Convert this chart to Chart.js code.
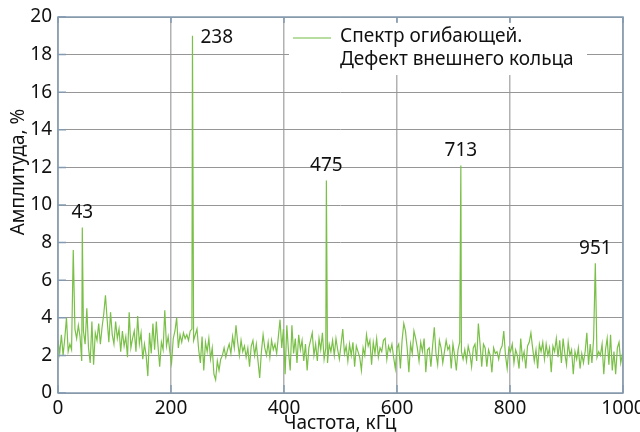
<!DOCTYPE html>
<html>
<head>
<meta charset="utf-8">
<script src="https://cdn.jsdelivr.net/npm/chart.js@4"></script>
<style>
  html, body { margin: 0; padding: 0; background: #fff; }
  #wrap { width: 640px; height: 432px; }
</style>
</head>
<body>
<div id="wrap"><canvas id="spectrum" width="640" height="432"></canvas></div>
<script>
// noise floor, one value every 3 kHz starting at 0
const step = 3;
const noise = [
    2.8,2.1,3.1,2.0,2.9,4.0,2.2,2.6,2.3,2.5,3.4,2.9,3.6,3.0,1.7,3.3,2.6,4.5,2.4,1.6,
    3.8,1.5,3.2,2.8,3.7,2.6,3.5,4.2,3.0,3.9,2.7,4.3,3.1,2.6,3.8,2.9,3.4,2.2,3.3,2.5,
    3.0,1.9,4.3,2.4,2.9,3.3,2.2,4.1,2.6,3.2,1.8,2.6,2.0,0.9,3.2,2.1,3.7,2.3,3.8,2.5,
    1.4,2.7,2.3,4.4,2.5,3.0,2.2,1.6,2.9,3.3,4.0,2.4,3.1,2.7,3.2,2.9,3.1,2.8,3.3,3.4,
    2.8,3.1,3.4,2.3,1.6,3.0,1.2,2.7,2.2,2.9,1.8,2.4,1.0,0.7,1.7,1.2,1.8,2.0,2.4,1.9,
    2.3,2.6,2.1,3.0,2.4,3.6,2.7,2.0,2.8,2.2,2.5,1.9,2.4,1.4,2.5,2.8,2.0,2.6,1.7,0.8,
    2.2,3.1,2.4,2.0,2.7,1.9,2.8,2.3,2.6,2.1,3.0,3.9,2.4,3.4,1.0,3.6,2.2,1.2,3.6,2.1,
    2.9,1.6,3.1,2.3,2.8,1.7,2.6,1.2,2.4,2.8,3.2,2.0,2.6,1.7,2.9,2.3,3.2,1.8,2.4,1.6,
    2.6,2.2,2.8,2.0,2.9,2.3,1.8,2.6,3.4,2.1,2.5,1.7,2.6,2.0,2.7,1.4,2.5,2.2,1.9,1.2,
    2.4,2.0,3.1,2.5,2.8,1.5,2.7,2.1,2.9,1.9,2.4,2.2,2.8,2.9,1.8,2.5,2.2,2.6,1.9,1.3,
    2.4,2.6,1.3,2.8,3.7,3.3,2.4,1.1,2.6,2.1,3.3,2.9,2.4,1.7,2.7,2.2,2.9,1.1,2.3,2.4,
    1.4,2.5,3.5,2.1,1.5,2.8,2.4,1.6,2.2,2.8,2.3,2.5,1.3,2.6,2.0,1.2,2.3,2.7,2.2,1.8,
    2.3,1.7,2.5,2.1,1.4,2.4,2.6,1.7,3.7,2.6,1.4,2.6,2.4,1.4,2.3,2.0,1.1,2.4,2.1,2.2,
    1.8,2.3,2.5,3.3,2.0,1.3,2.4,2.2,2.6,1.6,2.3,2.0,1.3,2.9,1.8,2.2,1.3,2.5,2.7,3.2,
    2.4,1.7,2.3,1.3,2.6,2.2,2.7,1.8,2.6,2.0,2.4,1.1,2.5,2.2,2.9,1.9,2.8,1.6,2.9,2.1,
    1.5,2.7,2.0,2.3,1.0,2.2,1.8,2.4,1.3,2.1,1.6,2.2,3.2,1.5,2.6,1.6,2.9,2.0,1.9,2.2,
    2.0,2.6,1.0,2.3,2.9,1.5,3.1,1.2,2.2,1.0,2.4,2.7,1.6,2.1
];

// narrow spectral peaks
const peakFreq = [27, 43, 84, 238, 475, 713, 951];
const peakAmp  = [7.6, 8.8, 5.2, 19.0, 11.3, 12.1, 6.9];

// peaks that carry a frequency label
const labelled = [43, 238, 475, 713, 951];

const yTicks = [0, 2, 4, 6, 8, 10, 12, 14, 16, 18, 20];
const xTicks = [0, 200, 400, 600, 800, 1000];

const seriesName = ['Спектр огибающей.', 'Дефект внешнего кольца'];
const xTitle = 'Частота, кГц';
const yTitle = 'Амплитуда, %';

function buildPoints() {
    let pts = noise.map((v, i) => ({ x: i * step, y: v }));
    pts = pts.filter(p => !peakFreq.includes(p.x));
    for (let i = 0; i < peakFreq.length; ++i) {
        pts.push({ x: peakFreq[i], y: peakAmp[i] });
    }
    pts.sort((a, b) => a.x - b.x);
    return pts;
}

const lineColor = 'rgb(122,192,72)';
const frameColor = 'rgb(132,154,176)';
const FONT = '"Noto Sans", "DejaVu Sans", sans-serif';

const decor = {
    id: 'decor',
    afterDraw(chart) {
        const ctx = chart.ctx;
        const a = chart.chartArea;
        const xs = chart.scales.x, ys = chart.scales.y;
        ctx.save();

        // peak labels
        ctx.fillStyle = '#111';
        ctx.font = '19px ' + FONT;
        for (let i = 0; i < peakFreq.length; ++i) {
            if (!labelled.includes(peakFreq[i])) continue;
            const px = xs.getPixelForValue(peakFreq[i]);
            const py = ys.getPixelForValue(peakAmp[i]);
            if (peakAmp[i] > 17) {
                ctx.textAlign = 'left';
                ctx.textBaseline = 'middle';
                ctx.fillText(String(peakFreq[i]), px + 8, py + 2);
            } else {
                ctx.textAlign = 'center';
                ctx.textBaseline = 'bottom';
                ctx.fillText(String(peakFreq[i]), px, py - 5);
            }
        }

        // legend box
        ctx.fillStyle = '#fff';
        ctx.fillRect(289, a.top + 5, 298, 53);
        ctx.strokeStyle = 'rgb(160,210,130)';
        ctx.lineWidth = 1.5;
        ctx.beginPath();
        ctx.moveTo(293, 38);
        ctx.lineTo(331, 38);
        ctx.stroke();
        ctx.fillStyle = '#111';
        ctx.textAlign = 'left';
        ctx.textBaseline = 'middle';
        ctx.font = '19px ' + FONT;
        ctx.fillText(seriesName[0], 340, 37);
        ctx.fillText(seriesName[1], 340, 60);

        // inner ticks
        ctx.strokeStyle = frameColor;
        ctx.lineWidth = 1.5;
        ctx.beginPath();
        yTicks.forEach(t => {
            const y = ys.getPixelForValue(t);
            ctx.moveTo(a.left, y); ctx.lineTo(a.left + 8, y);
        });
        xTicks.forEach(t => {
            const x = xs.getPixelForValue(t);
            ctx.moveTo(x, a.bottom); ctx.lineTo(x, a.bottom - 8);
            ctx.moveTo(x, a.top); ctx.lineTo(x, a.top + 6);
        });
        ctx.stroke();

        // frame
        ctx.lineWidth = 1.5;
        ctx.strokeRect(a.left, a.top, a.right - a.left, a.bottom - a.top);

        // axis titles
        ctx.fillStyle = '#111';
        ctx.font = '19px ' + FONT;
        ctx.textAlign = 'center';
        ctx.textBaseline = 'alphabetic';
        ctx.fillText(xTitle, 340, 429);
        ctx.translate(24, 172);
        ctx.rotate(-Math.PI / 2);
        ctx.fillText(yTitle, 0, 0);
        ctx.restore();
    }
};

const data = {
    datasets: [{
        label: seriesName.join(' '),
        data: buildPoints(),
        borderColor: lineColor,
        borderWidth: 1.2,
        pointRadius: 0,
        tension: 0,
        fill: false
    }]
};

const config = {
    type: 'line',
    data,
    options: {
        responsive: false,
        animation: false,
        layout: { padding: { left: 0, right: 17, top: 17, bottom: 0 } },
        plugins: {
            legend: { display: false },
            tooltip: { enabled: false }
        },
        scales: {
            x: {
                type: 'linear',
                min: 0,
                max: 1000,
                afterFit(scale) {
                    scale.height = 39;
                    scale.paddingLeft = 0;
                    scale.paddingRight = 0;
                },
                afterBuildTicks(scale) { scale.ticks = xTicks.map(v => ({ value: v })); },
                border: { display: false },
                grid: { color: 'rgb(178,178,178)', lineWidth: 1.5, drawTicks: false },
                ticks: {
                    padding: 4,
                    color: '#111',
                    maxRotation: 0,
                    font: { family: FONT, size: 19 },
                    callback: v => String(v)
                }
            },
            y: {
                min: 0,
                max: 20,
                afterFit(scale) {
                    scale.width = 58;
                    scale.paddingTop = 0;
                    scale.paddingBottom = 0;
                },
                afterBuildTicks(scale) { scale.ticks = yTicks.map(v => ({ value: v })); },
                border: { display: false },
                grid: { color: 'rgb(150,150,150)', lineWidth: 1, drawTicks: false },
                ticks: {
                    padding: 6,
                    color: '#111',
                    font: { family: FONT, size: 19 },
                    callback: v => String(v)
                }
            }
        }
    },
    plugins: [decor]
};

const spectrumChart = new Chart(
    document.getElementById('spectrum'),
    config
);
</script>
</body>
</html>
